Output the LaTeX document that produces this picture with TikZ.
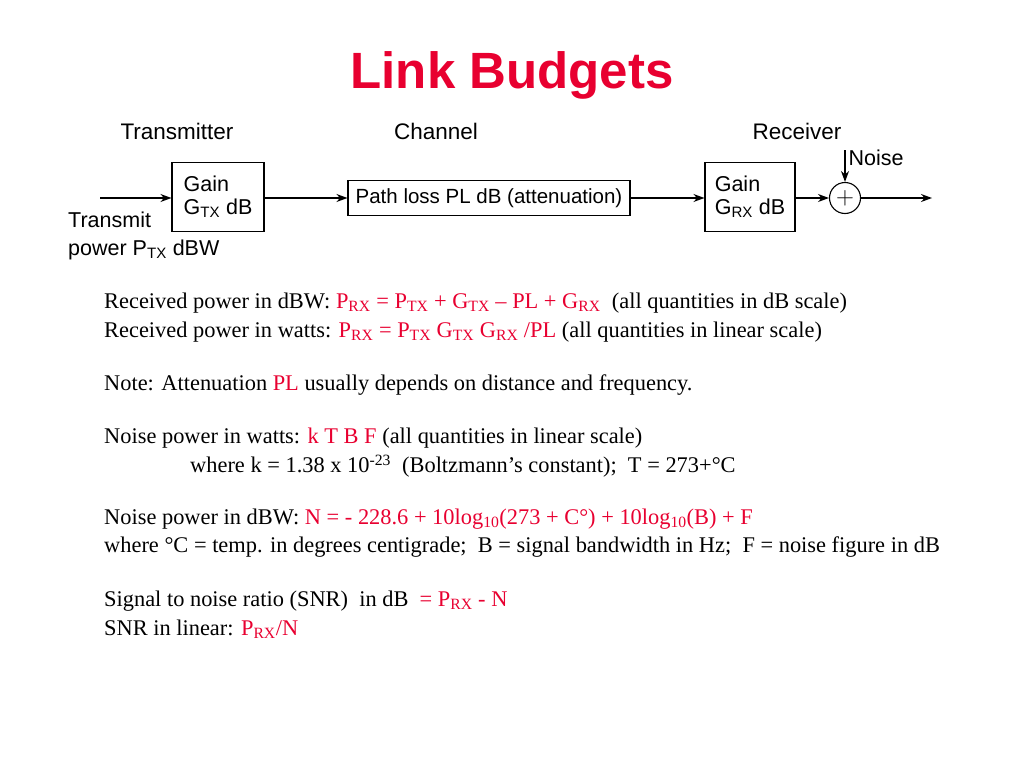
\documentclass[tikz,border=0pt]{standalone}
\usepackage{fontspec}
\setmainfont{Liberation Serif}
\setsansfont{Liberation Sans}
\usetikzlibrary{arrows.meta,positioning}
\definecolor{tred}{RGB}{232,0,48}
\tikzset{
  blk/.style={draw, line width=1.1pt, font=\sffamily\fontsize{21.5}{23}\selectfont, align=left},
  sig/.style={-{Stealth[length=11pt,width=8pt]}, line width=1.3pt},
  hdr/.style={font=\sffamily\fontsize{22.5}{24}\selectfont},
  body/.style={anchor=west, font=\fontsize{22.4}{24}\selectfont, inner sep=0pt},
}
\newcommand{\rd}[1]{\textcolor{tred}{#1}}
\begin{document}
\begin{tikzpicture}[x=1pt,y=-1pt]
\useasboundingbox (0,0) rectangle (1024,768);

% title
\node[font=\sffamily\bfseries\fontsize{51}{56}\selectfont, text=tred] (title) at (512,75) {Link Budgets};

% section headers
\node[hdr] (tx) at (177,131) {Transmitter};
\node[hdr] (ch) at (436,131) {Channel};
\node[hdr] (rx) at (797,131) {Receiver};

% blocks
\node[blk, minimum width=92pt, minimum height=69pt] (gtx) at (218,197) {Gain\\G\textsubscript{TX} dB};
\node[blk, minimum width=282pt, minimum height=35pt, font=\sffamily\fontsize{20.5}{22}\selectfont, inner sep=1pt] (pl) at (489,198) {Path loss PL dB (attenuation)};
\node[blk, minimum width=90pt, minimum height=69pt] (grx) at (750,197) {Gain\\G\textsubscript{RX} dB};
\node[draw, circle, line width=1.1pt, minimum size=31pt, inner sep=0pt, font=\fontsize{30}{30}\selectfont] (sum) at (845,198) {$+$};

\coordinate (in) at (100,198);
\coordinate (out) at (932,198);
\coordinate (nz) at (845,150);

\draw[sig] (in) -- (gtx.west |- in);
\draw[sig] (gtx.east |- pl) -- (pl.west);
\draw[sig] (pl.east) -- (grx.west |- pl);
\draw[sig] (grx.east |- sum) -- (sum.west);
\draw[sig] (sum.east) -- (out);
\draw[sig] (nz) -- (sum.north);

\node[hdr, anchor=west, font=\sffamily\fontsize{21.5}{23}\selectfont] (noise) at (845,158) {Noise};
\node[anchor=north west, align=left, inner sep=2pt, font=\sffamily\fontsize{21.5}{28}\selectfont] (ptx) at (66,210) {Transmit\\power P\textsubscript{TX} dBW};

% equations
\node[body] (l1) at (104,303) {Received power in dBW: \rd{P\textsubscript{RX} = P\textsubscript{TX} + G\textsubscript{TX} -- PL + G\textsubscript{RX}}\ \ (all quantities in dB scale)};
\node[body] (l2) at (104,332) {Received power in watts: \rd{P\textsubscript{RX} = P\textsubscript{TX} G\textsubscript{TX} G\textsubscript{RX} /PL} (all quantities in linear scale)};
\node[body] (l3) at (104,385) {Note: Attenuation \rd{PL} usually depends on distance and frequency.};
\node[body] (l4) at (104,438) {Noise power in watts: \rd{k T B F} (all quantities in linear scale)};
\node[body] (l5) at (190,466) {where k = 1.38 x 10\textsuperscript{-23}\ \ (Boltzmann’s constant);\ \ T = 273+°C};
\node[body] (l6) at (104,519) {Noise power in dBW: \rd{N = - 228.6 + 10log\textsubscript{10}(273 + C°) + 10log\textsubscript{10}(B) + F}};
\node[body] (l7) at (104,547) {where °C = temp. in degrees centigrade;\ \ B = signal bandwidth in Hz;\ \ F = noise figure in dB};
\node[body] (l8) at (104,601) {Signal to noise ratio (SNR)\ \ in dB\ \ \rd{= P\textsubscript{RX} - N}};
\node[body] (l9) at (104,629) {SNR in linear: \rd{P\textsubscript{RX}/N}};
\end{tikzpicture}
\end{document}
